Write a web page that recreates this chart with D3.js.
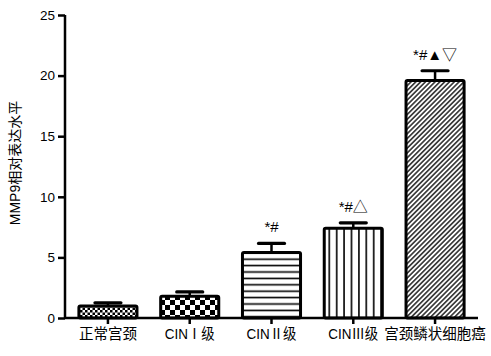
<!DOCTYPE html>
<html>
<head>
<meta charset="utf-8">
<script src="https://cdn.jsdelivr.net/npm/d3@7"></script>
<style>
  body { margin: 0; background: #fff; }
  text { font-family: "Liberation Sans", Arial, "Noto Sans CJK SC", sans-serif; }
</style>
</head>
<body>
<svg id="chart" width="491" height="356"></svg>
<script>
const categories = ['正常宫颈', 'CINⅠ级', 'CINⅡ级', 'CINⅢ级', '宫颈鳞状细胞癌']
const means = [1.0, 1.8, 5.4, 7.4, 19.6]
const errors = [0.25, 0.35, 0.75, 0.45, 0.8]
const marks = ['', '', '*#', '*#△', '*#▲▽']
const patterns = ['checkSmall', 'checkBig', 'hLines', 'vLines', 'diag']
const yTicks = [0, 5, 10, 15, 20, 25]

const svg = d3.select('#chart')
const mLeft = 65, mRight = 478, mTop = 15, mBottom = 318

const x = d3.scaleBand()
	.domain(categories)
	.range([mLeft, mRight])
	.paddingInner(0.29)
	.paddingOuter(0.17)

const y = d3.scaleLinear()
	.domain([0, 25])
	.range([mBottom, mTop])

// fill patterns
const defs = svg.append('defs')

const check = (id, s) => {
	const p = defs.append('pattern').attr('id', id)
		.attr('patternUnits', 'userSpaceOnUse')
		.attr('width', s * 2).attr('height', s * 2)
	p.append('rect').attr('width', s * 2).attr('height', s * 2).attr('fill', '#fff')
	p.append('rect').attr('width', s).attr('height', s).attr('fill', '#000')
	p.append('rect').attr('x', s).attr('y', s).attr('width', s).attr('height', s).attr('fill', '#000')
}
check('checkSmall', 2.5)
check('checkBig', 5)

const lines = (id, w, h, d, sw) => {
	const p = defs.append('pattern').attr('id', id)
		.attr('patternUnits', 'userSpaceOnUse')
		.attr('width', w).attr('height', h)
	p.append('rect').attr('width', w).attr('height', h).attr('fill', '#fff')
	p.append('path').attr('d', d).attr('stroke', '#000').attr('stroke-width', sw)
}
lines('hLines', 10, 6.4, 'M0,3.2H10', 1.6)
lines('vLines', 7.4, 10, 'M3.7,0V10', 1.6)

// diagonal hatch "////"
const dg = defs.append('pattern').attr('id', 'diag')
	.attr('patternUnits', 'userSpaceOnUse')
	.attr('width', 3.4).attr('height', 3.4)
	.attr('patternTransform', 'rotate(45)')
dg.append('rect').attr('width', 3.4).attr('height', 3.4).attr('fill', '#fff')
dg.append('path').attr('d', 'M1.7,0V3.4').attr('stroke', '#000').attr('stroke-width', 1.3)

// bars
const bars = svg.selectAll('g.bar')
	.data(categories)
	.enter().append('g')
	.attr('class', 'bar')

bars.append('line')
	.attr('x1', (d) => x(d) + x.bandwidth() / 2)
	.attr('x2', (d) => x(d) + x.bandwidth() / 2)
	.attr('y1', (d, i) => y(means[i]))
	.attr('y2', (d, i) => y(means[i] + errors[i]))
	.attr('stroke', '#000').attr('stroke-width', 2.5)

bars.append('line')
	.attr('x1', (d) => x(d) + x.bandwidth() / 2 - 13)
	.attr('x2', (d) => x(d) + x.bandwidth() / 2 + 13)
	.attr('y1', (d, i) => y(means[i] + errors[i]))
	.attr('y2', (d, i) => y(means[i] + errors[i]))
	.attr('stroke', '#000').attr('stroke-width', 3.2)
	.attr('stroke-linecap', 'round')

bars.append('rect')
	.attr('x', (d) => x(d))
	.attr('y', (d, i) => y(means[i]))
	.attr('width', x.bandwidth())
	.attr('height', (d, i) => y(0) - y(means[i]))
	.attr('rx', 1.5)
	.attr('fill', (d, i) => 'url(#' + patterns[i] + ')')
	.attr('stroke', '#000')
	.attr('stroke-width', 3)

bars.append('text')
	.attr('x', (d) => x(d) + x.bandwidth() / 2)
	.attr('y', (d, i) => y(means[i] + errors[i]) - 11)
	.attr('text-anchor', 'middle')
	.attr('font-size', 15)
	.attr('font-family', '"Noto Sans CJK SC", sans-serif')
	.text((d, i) => marks[i])

// axes
const yAxis = svg.append('g')
	.attr('transform', `translate(${mLeft},0)`)
	.call(d3.axisLeft(y).tickValues(yTicks).tickSize(7).tickPadding(3))
yAxis.select('.domain').attr('stroke-width', 2.5).attr('d', `M0,${mTop}V${mBottom}`)
yAxis.selectAll('.tick line').attr('stroke-width', 2.5)
yAxis.selectAll('.tick text').attr('font-size', 13.5).attr('fill', '#000')

const xAxis = svg.append('g')
	.attr('transform', `translate(0,${mBottom})`)
	.call(d3.axisBottom(x).tickSize(6).tickPadding(5))
xAxis.select('.domain').attr('stroke-width', 2.5).attr('d', `M${mLeft},0H${mRight}`)
xAxis.selectAll('.tick line').attr('stroke-width', 2.5)
xAxis.selectAll('.tick text')
	.attr('font-size', 14.5)
	.attr('fill', '#000')
	.attr('font-family', '"Noto Sans CJK SC", sans-serif')
	.filter((d) => d.startsWith('CIN'))
	.attr('textLength', 50)
	.attr('lengthAdjust', 'spacingAndGlyphs')

svg.append('text')
	.attr('transform', 'translate(20,163) rotate(-90)')
	.attr('text-anchor', 'middle')
	.attr('font-size', 14)
	.attr('font-family', '"Noto Sans CJK SC", sans-serif')
	.text('MMP9相对表达水平')
</script>
</body>
</html>
